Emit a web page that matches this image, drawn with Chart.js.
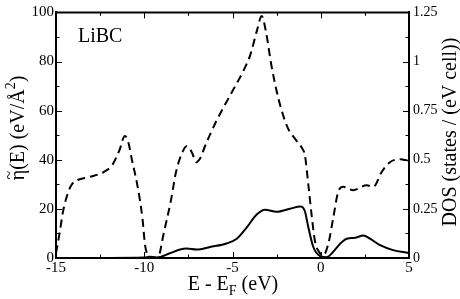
<!DOCTYPE html>
<html>
<head>
<meta charset="utf-8">
<script src="https://cdn.jsdelivr.net/npm/chart.js@4.4.0/dist/chart.umd.min.js"></script>
<style>
html, body { margin: 0; padding: 0; background: #fff; }
</style>
</head>
<body>
<canvas id="chart" width="460" height="299"></canvas>
<script>
// eta(E), left axis, dashed
const etaE = [-15, -14.8, -14.6, -14.3, -14.1, -13.8, -13.1, -12.3, -11.8, -11.4, -11.1, -10.9, -10.7, -10.4, -10.1, -9.95, -9.7, -9.4, -9.2,
  -8.9, -8.5, -8.2, -7.9, -7.6, -7.3, -7.05, -6.8, -6.56, -5.9, -5.1, -4.4, -4.0, -3.6, -3.35, -3.1, -2.8, -2.4, -1.9, -1.4, -1.0,
  -0.9, -0.7, -0.5, -0.33, -0.05, 0.15, 0.43, 0.71, 0.99, 1.28, 1.84, 2.6, 2.98, 3.45, 3.92, 4.5, 5.0];
const etaVal = [2, 10, 19, 27, 30, 31.7, 33, 35, 38, 44, 49.7, 47, 40, 30, 16, 5, 0.5, 0, 0.5,
  10, 23, 35, 42, 45.5, 43, 39, 41, 45.5, 56, 66.7, 76, 82.5, 93, 98.5, 92, 78.6, 65, 53.5, 48, 44,
  42, 29.6, 16.4, 7, 2, 1.2, 5.8, 16.4, 27, 29, 27.6, 29.6, 29, 35, 39, 40.2, 39.6];

// DOS, right axis, solid
const dosE = [-15, -12, -10, -9.7, -9.3, -8.54, -7.97, -7.6, -7.03, -6.27, -5.3, -4.76, -4.2, -3.63, -3.16, -2.5, -1.74, -1.15,
  -0.9, -0.7, -0.42, -0.04, 0.34, 0.7, 1.1, 1.47, 1.94, 2.41, 2.79, 3.36, 4.1, 4.96];
const dosVal = [0, 0, 0.002, 0.006, 0.003, 0.024, 0.043, 0.048, 0.043, 0.056, 0.075, 0.098, 0.155, 0.221, 0.246, 0.235, 0.251, 0.262,
  0.238, 0.155, 0.056, 0.01, 0.004, 0.031, 0.073, 0.098, 0.103, 0.114, 0.098, 0.065, 0.04, 0.026];

const xTicks = [-15, -10, -5, 0, 5];
const leftTicks = [0, 20, 40, 60, 80, 100];
const rightTicks = [0, 0.25, 0.5, 0.75, 1, 1.25];

const serif = 'Liberation Serif, Times New Roman, serif';
Chart.defaults.font.family = serif;

function isIn(list, v) {
    return list.some(t => Math.abs(t - v) < 1e-6);
}

// draw a row of text pieces: [text, fontSize, yShift]
function drawParts(ctx, parts, x, y) {
    let w = 0;
    parts.forEach(p => { ctx.font = p[1] + 'px ' + serif; w += ctx.measureText(p[0]).width; });
    let cx = x - w / 2;
    const pos = [];
    parts.forEach(p => {
        ctx.font = p[1] + 'px ' + serif;
        ctx.fillText(p[0], cx, y + p[2]);
        const pw = ctx.measureText(p[0]).width;
        pos.push(cx + pw / 2);
        cx += pw;
    });
    return pos;
}

const frame = {
    id: 'frame',
    afterDraw(chart) {
        const { ctx, chartArea: a, scales } = chart;
        ctx.save();
        ctx.strokeStyle = '#000';
        ctx.lineWidth = 2;
        ctx.beginPath();
        ctx.moveTo(a.left - 1, a.top);
        ctx.lineTo(a.right + 1, a.top);
        ctx.stroke();

        // inward ticks
        ctx.lineWidth = 1;
        const seg = (x1, y1, x2, y2) => { ctx.beginPath(); ctx.moveTo(x1, y1); ctx.lineTo(x2, y2); ctx.stroke(); };
        scales.x.ticks.forEach(t => {
            const px = Math.round(scales.x.getPixelForValue(t.value)) + 0.5;
            const len = isIn(xTicks, t.value) ? 6 : 3.5;
            seg(px, a.bottom, px, a.bottom - len);
            seg(px, a.top, px, a.top + len);
        });
        scales.y.ticks.forEach(t => {
            const py = Math.round(scales.y.getPixelForValue(t.value)) + 0.5;
            const len = isIn(leftTicks, t.value) ? 6 : 3.5;
            seg(a.left, py, a.left + len, py);
        });
        scales.y2.ticks.forEach(t => {
            const py = Math.round(scales.y2.getPixelForValue(t.value)) + 0.5;
            const len = isIn(rightTicks, t.value) ? 6 : 3.5;
            seg(a.right, py, a.right - len, py);
        });

        // titles
        ctx.fillStyle = '#000';
        ctx.textAlign = 'left';
        ctx.textBaseline = 'alphabetic';
        drawParts(ctx, [['E - E', 20, 0], ['F', 14, 5], [' (eV)', 20, 0]], 233, 290);

        ctx.save();
        ctx.translate(24, 128);
        ctx.rotate(-Math.PI / 2);
        const pos = drawParts(ctx, [['\u03b7', 20, 0], ['(E) (eV/\u00c5', 20, 0], ['2', 14, -9], [')', 20, 0]], 0, 0);
        ctx.font = '16px ' + serif;
        ctx.textAlign = 'center';
        ctx.fillText('~', pos[0], -10);
        ctx.restore();

        ctx.save();
        ctx.translate(456, 132);
        ctx.rotate(-Math.PI / 2);
        ctx.textAlign = 'center';
        ctx.font = '20px ' + serif;
        ctx.fillText('DOS (states / (eV cell))', 0, 0);
        ctx.restore();

        ctx.textAlign = 'left';
        ctx.font = '20px ' + serif;
        ctx.fillText('LiBC', 78, 42);
        ctx.restore();
    }
};

new Chart(document.getElementById('chart').getContext('2d'), {
    type: 'line',
    data: {
        datasets: [{
            label: 'eta',
            data: etaE.map((e, i) => ({ x: e, y: etaVal[i] })),
            yAxisID: 'y',
            borderColor: '#000',
            borderWidth: 2,
            borderDash: [8, 5],
            pointRadius: 0,
            cubicInterpolationMode: 'monotone',
            fill: false
        }, {
            label: 'DOS',
            data: dosE.map((e, i) => ({ x: e, y: dosVal[i] })),
            yAxisID: 'y2',
            borderColor: '#000',
            borderWidth: 2,
            pointRadius: 0,
            cubicInterpolationMode: 'monotone',
            fill: false
        }]
    },
    options: {
        responsive: false,
        animation: false,
        layout: { padding: { top: 6, left: 0, right: 0, bottom: 0 } },
        plugins: {
            legend: { display: false },
            tooltip: { enabled: false }
        },
        scales: {
            x: {
                type: 'linear',
                min: -15, max: 5,
                grid: { display: false, drawTicks: false },
                border: { color: '#000', width: 2 },
                ticks: {
                    stepSize: 2.5,
                    autoSkip: false,
                    maxRotation: 0,
                    padding: 1,
                    color: '#000',
                    font: { family: serif, size: 15 },
                    callback: v => isIn(xTicks, v) ? String(v) : ''
                },
                afterFit: s => { s.height = 41; }
            },
            y: {
                position: 'left',
                min: 0, max: 100,
                grid: { display: false, drawTicks: false },
                border: { color: '#000', width: 2 },
                ticks: {
                    stepSize: 10,
                    autoSkip: false,
                    padding: 2,
                    color: '#000',
                    font: { family: serif, size: 15 },
                    callback: v => isIn(leftTicks, v) ? String(v) : ''
                },
                afterFit: s => { s.width = 56; }
            },
            y2: {
                position: 'right',
                min: 0, max: 1.25,
                grid: { display: false, drawTicks: false },
                border: { color: '#000', width: 2 },
                ticks: {
                    stepSize: 0.125,
                    autoSkip: false,
                    padding: 4,
                    color: '#000',
                    font: { family: serif, size: 14 },
                    callback: v => isIn(rightTicks, v) ? String(+v.toFixed(2)) : ''
                },
                afterFit: s => { s.width = 51; }
            }
        }
    },
    plugins: [frame]
});
</script>
</body>
</html>
